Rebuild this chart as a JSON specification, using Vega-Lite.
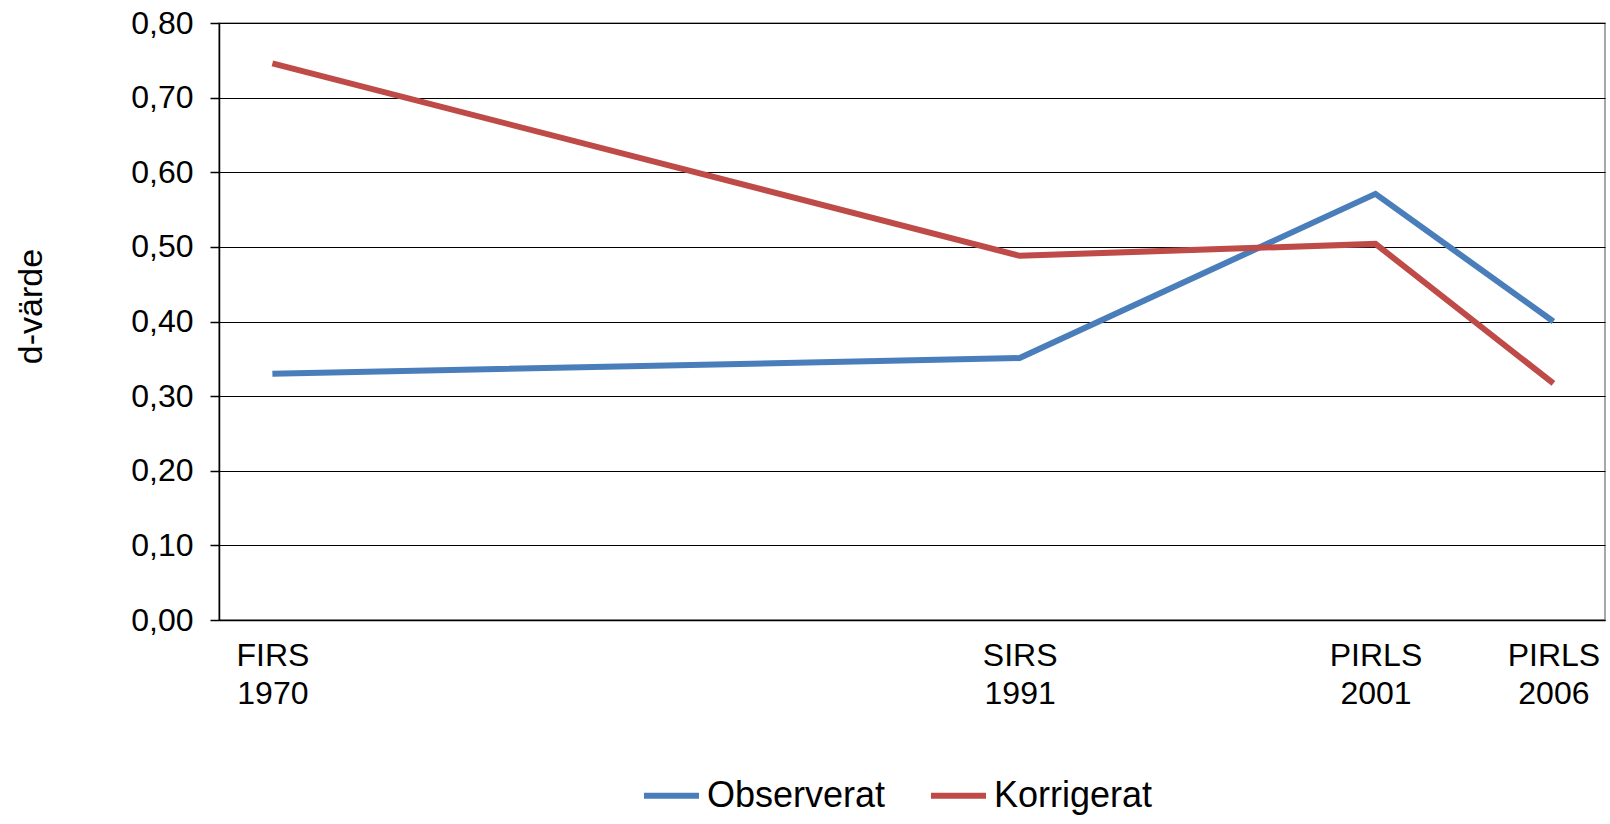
{
  "$schema": "https://vega.github.io/schema/vega-lite/v6.json",
  "width": 1386,
  "height": 597,
  "autosize": {"type": "none"},
  "padding": {"left": 219, "top": 23, "right": 5, "bottom": 204},
  "background": "white",
  "config": {
    "font": "Liberation Sans",
    "view": {"stroke": "#8c8c8c", "strokeWidth": 1.5}
  },
  "data": {
    "values": [
      {"year": 1970, "serie": "Observerat", "d": 0.330},
      {"year": 1991, "serie": "Observerat", "d": 0.351},
      {"year": 2001, "serie": "Observerat", "d": 0.571},
      {"year": 2006, "serie": "Observerat", "d": 0.400},
      {"year": 1970, "serie": "Korrigerat", "d": 0.746},
      {"year": 1991, "serie": "Korrigerat", "d": 0.488},
      {"year": 2001, "serie": "Korrigerat", "d": 0.504},
      {"year": 2006, "serie": "Korrigerat", "d": 0.317}
    ]
  },
  "mark": {"type": "line", "strokeWidth": 6, "strokeJoin": "miter"},
  "encoding": {
    "x": {
      "field": "year",
      "type": "quantitative",
      "scale": {"domain": [1968.5, 2007.45], "nice": false, "zero": false},
      "axis": {
        "title": null,
        "values": [1970, 1991, 2001, 2006],
        "labelExpr": "datum.value == 1970 ? ['FIRS', '1970'] : datum.value == 1991 ? ['SIRS', '1991'] : datum.value == 2001 ? ['PIRLS', '2001'] : ['PIRLS', '2006']",
        "ticks": false,
        "grid": false,
        "domainColor": "#000000",
        "domainWidth": 1.5,
        "labelFontSize": 32,
        "labelColor": "#000000",
        "labelPadding": 20,
        "labelLineHeight": 38,
        "labelFlush": false,
        "labelOverlap": false
      }
    },
    "y": {
      "field": "d",
      "type": "quantitative",
      "scale": {"domain": [0, 0.8], "nice": false},
      "axis": {
        "title": "d-värde",
        "titleFontSize": 34,
        "titleFontWeight": "normal",
        "titleColor": "#000000",
        "titleAngle": 270,
        "titleAlign": "center",
        "titleBaseline": "middle",
        "titleX": -188,
        "titleY": 283,
        "values": [0, 0.1, 0.2, 0.3, 0.4, 0.5, 0.6, 0.7, 0.8],
        "labelExpr": "replace(format(datum.value, '.2f'), '.', ',')",
        "labelFontSize": 32,
        "labelColor": "#000000",
        "labelPadding": 17,
        "tickSize": 9,
        "tickColor": "#000000",
        "tickWidth": 1.5,
        "domainColor": "#000000",
        "domainWidth": 1.5,
        "gridColor": "#000000",
        "gridWidth": 1.2,
        "gridOpacity": 1
      }
    },
    "color": {
      "field": "serie",
      "type": "nominal",
      "scale": {"domain": ["Observerat", "Korrigerat"], "range": ["#4A7EBB", "#BE4B48"]},
      "legend": {
        "title": null,
        "orient": "none",
        "direction": "horizontal",
        "legendX": 422,
        "legendY": 742,
        "padding": 0,
        "symbolType": "stroke",
        "symbolSize": 3025,
        "symbolStrokeWidth": 6,
        "labelFontSize": 36,
        "labelColor": "#000000",
        "labelOffset": 5,
        "columnPadding": 33,
        "labelLimit": 400
      }
    }
  }
}
